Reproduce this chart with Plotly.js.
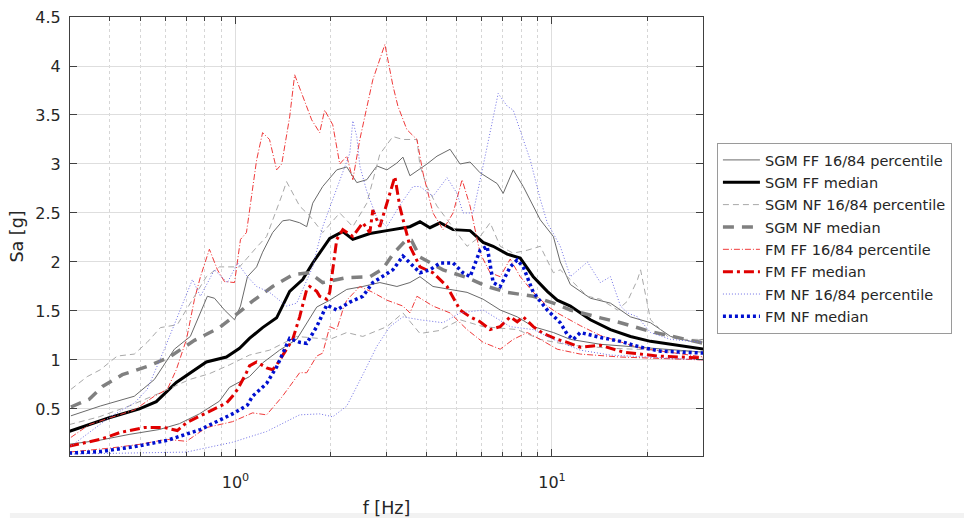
<!DOCTYPE html>
<html>
<head>
<meta charset="utf-8">
<script src="https://cdn.plot.ly/plotly-3.0.1.min.js"></script>
<style>html,body{margin:0;padding:0;background:#fff;}#chart{width:964px;height:518px;}</style>
</head>
<body>
<div id="chart"></div>
<script>
// ---- Data (frequency in Hz, Sa in g) ----
const legendNames = ["SGM FF 16/84 percentile","SGM FF median","SGM NF 16/84 percentile","SGM NF median",
  "FM FF 16/84 percentile","FM FF median","FM NF 16/84 percentile","FM NF median"];

const sgmFF84F = [0.302,0.374,0.479,0.554,0.641,0.720,0.815,0.858,0.923,0.993,1.037,1.091,1.166,1.218,1.310,1.409,1.483,1.595,1.679,1.754,1.886,2.089,2.247,2.417,2.600,2.797,3.009,3.236,3.381,3.558,4.027,4.332,4.764,5.123,5.511,5.928,6.711,7.012,7.543,8.113,9.183,10.10,10.62,11.43,13.22,15.30,17.70,20.48,23.70,27.43,30.15];
const sgmFF84V = [0.43,0.53,0.63,0.80,1.11,1.24,1.65,1.63,1.51,1.41,1.55,1.85,1.95,2.10,2.30,2.42,2.43,2.40,2.36,2.60,2.77,2.94,2.97,2.81,2.84,2.98,2.94,3.01,3.07,2.88,3.00,3.08,3.15,3.00,3.02,2.91,2.80,2.70,2.94,2.77,2.43,2.26,2.00,1.77,1.63,1.58,1.44,1.38,1.24,1.19,1.21];
const sgmFF16F = [0.298,0.371,0.461,0.574,0.665,0.769,0.890,0.957,1.107,1.218,1.378,1.561,1.806,1.985,2.247,2.525,2.858,3.236,3.558,3.827,4.207,4.764,5.391,6.059,6.860,7.766,8.727,10.10,11.43,14.22,20.48,30.15];
const sgmFF16V = [0.14,0.18,0.24,0.29,0.35,0.45,0.58,0.72,0.83,0.97,1.10,1.21,1.54,1.61,1.72,1.75,1.79,1.75,1.79,1.85,1.75,1.72,1.69,1.62,1.51,1.44,1.34,1.28,1.21,1.16,1.12,1.08];

const sgmFFmedF = [0.298,0.399,0.497,0.562,0.650,0.809,0.936,1.030,1.107,1.218,1.349,1.483,1.630,1.754,1.985,2.183,2.348,2.658,3.009,3.307,3.558,3.827,4.116,4.429,4.869,5.511,6.059,6.517,7.220,7.937,8.727,9.663,10.39,11.43,13.22,15.30,17.70,20.48,23.70,30.15];
const sgmFFmedV = [0.27,0.41,0.50,0.575,0.77,0.98,1.03,1.12,1.22,1.33,1.43,1.70,1.82,1.99,2.24,2.31,2.23,2.29,2.32,2.34,2.36,2.41,2.35,2.40,2.33,2.32,2.20,2.16,2.08,2.04,1.85,1.70,1.61,1.55,1.41,1.31,1.24,1.19,1.16,1.11];

const sgmNF84F = [0.302,0.340,0.374,0.423,0.479,0.526,0.579,0.655,0.742,0.809,0.890,1.030,1.166,1.254,1.409,1.450,1.595,1.716,1.886,2.135,2.348,2.600,2.858,3.143,3.381,3.744,3.827,4.027,4.332,4.660,5.012,5.391,5.928,6.376,6.860,7.543,8.353,9.183,10.10,10.62,11.43,12.94,14.22,16.10,17.32,18.63,19.05,20.48,23.19,26.07,30.15];
const sgmNF84V = [0.70,0.83,0.90,1.04,1.06,1.18,1.33,1.36,1.65,1.85,1.95,1.95,2.15,2.26,2.70,2.82,2.57,2.47,2.30,2.50,2.36,2.60,3.10,3.28,3.25,3.25,2.98,2.77,2.57,2.43,2.29,2.16,2.26,2.40,2.16,2.09,2.12,2.16,1.89,1.92,1.82,1.65,1.62,1.51,1.60,1.82,1.92,1.41,1.24,1.21,1.21];
const sgmNF16F = [0.298,0.371,0.461,0.574,0.715,0.827,0.957,1.107,1.281,1.561,1.985,2.247,2.525,3.009,3.381,3.827,4.400,5.123,6.059,7.766,9.183,11.43,15.30,20.48,30.15];
const sgmNF16V = [0.34,0.42,0.53,0.66,0.80,0.86,0.95,1.05,1.10,1.24,1.21,1.28,1.24,1.34,1.48,1.27,1.30,1.41,1.34,1.31,1.21,1.15,1.12,1.10,1.08];

const sgmNFmedF = [0.302,0.345,0.380,0.439,0.534,0.618,0.742,0.890,1.030,1.132,1.310,1.516,1.716,1.886,2.247,2.658,2.922,3.143,3.450,3.600,3.827,4.526,5.391,6.238,7.220,8.727,10.10,11.43,14.22,16.46,20.48,26.07,30.15];
const sgmNFmedV = [0.52,0.60,0.73,0.85,0.94,1.03,1.20,1.33,1.49,1.60,1.75,1.87,1.89,1.79,1.84,1.85,1.93,2.08,2.22,2.22,2.05,1.92,1.84,1.75,1.69,1.65,1.58,1.51,1.43,1.38,1.29,1.21,1.17];

const fmFF84F = [0.302,0.345,0.393,0.479,0.554,0.609,0.650,0.700,0.742,0.775,0.827,0.877,0.923,0.993,1.037,1.083,1.166,1.218,1.281,1.349,1.400,1.483,1.538,1.630,1.741,1.845,1.913,2.029,2.135,2.247,2.348,2.471,2.716,2.965,3.143,3.260,3.481,3.744,3.911,4.207,4.526,4.869,5.199,5.511,5.928,6.376,6.860,7.379,7.937,8.727,9.663,10.39,12.29,14.22,19.05,30.15];
const fmFF84V = [0.21,0.34,0.40,0.49,0.63,0.70,0.90,1.21,1.62,1.85,2.13,1.92,1.80,1.79,2.23,2.30,3.04,3.32,3.25,2.94,3.00,3.48,3.91,3.69,3.45,3.32,3.55,3.40,3.00,3.08,2.84,3.25,3.86,4.22,3.80,3.59,3.35,3.25,2.91,2.50,2.33,2.50,2.84,2.57,2.09,1.89,1.85,2.03,1.85,1.69,1.55,1.48,1.35,1.25,1.12,1.03];
const fmFF16F = [0.298,0.400,0.500,0.605,0.700,0.809,0.978,1.132,1.254,1.400,1.483,1.595,1.679,1.806,1.886,1.985,2.089,2.183,2.247,2.471,2.716,3.009,3.381,3.558,3.744,4.207,4.764,5.391,6.059,6.860,7.543,8.353,9.183,10.39,12.29,16.46,30.15];
const fmFF16V = [0.06,0.10,0.14,0.19,0.17,0.31,0.37,0.46,0.44,0.62,0.73,0.87,0.87,1.04,1.07,1.34,1.31,1.51,1.61,1.75,1.69,1.61,1.55,1.48,1.65,1.55,1.48,1.31,1.18,1.11,1.21,1.28,1.21,1.11,1.06,1.03,1.00];

const fmFFmedF = [0.298,0.374,0.432,0.515,0.596,0.655,0.700,0.809,0.936,0.978,1.015,1.083,1.107,1.166,1.254,1.310,1.349,1.450,1.516,1.595,1.679,1.716,1.806,1.845,1.942,1.985,2.089,2.183,2.348,2.525,2.658,2.716,2.858,3.075,3.189,3.307,3.558,3.827,4.207,4.660,5.123,5.511,5.928,6.376,6.860,7.379,7.766,8.113,8.727,9.384,10.39,11.18,12.29,14.22,16.82,21.56,30.15];
const fmFFmedV = [0.12,0.19,0.26,0.31,0.31,0.28,0.36,0.46,0.56,0.63,0.70,0.87,0.94,0.98,0.92,0.90,0.95,1.11,1.21,1.44,1.72,1.75,1.70,1.65,1.62,1.69,2.23,2.33,2.26,2.40,2.30,2.53,2.36,2.70,2.87,2.56,2.16,1.95,1.89,1.75,1.51,1.44,1.39,1.31,1.34,1.44,1.39,1.44,1.34,1.27,1.21,1.18,1.13,1.15,1.08,1.04,1.02];

const fmNF84F = [0.302,0.402,0.479,0.526,0.596,0.670,0.731,0.775,0.858,0.943,1.015,1.091,1.166,1.281,1.450,1.561,1.754,1.886,2.029,2.183,2.297,2.348,2.417,2.471,2.600,2.797,3.009,3.307,3.636,3.827,4.207,4.660,5.012,5.236,5.633,6.059,6.517,6.760,7.220,7.543,8.113,8.538,9.183,9.663,10.10,10.62,11.43,12.94,14.22,15.30,16.46,17.32,18.63,20.48,23.70,30.15];
const fmNF84V = [0.12,0.42,0.56,0.70,1.11,1.51,1.82,1.65,1.92,1.79,1.99,1.85,1.75,1.69,1.55,1.58,1.95,2.36,2.64,2.91,3.11,3.44,3.28,2.98,2.72,2.45,2.36,2.58,2.77,2.77,2.67,2.86,2.70,2.50,2.50,2.98,3.49,3.72,3.59,3.55,3.25,3.04,2.64,2.40,2.29,2.16,1.85,2.00,1.79,1.85,1.55,1.48,1.44,1.28,1.21,1.18];
const fmNF16F = [0.302,0.507,0.700,0.978,1.254,1.595,1.845,2.029,2.247,2.525,2.797,3.075,3.381,3.827,4.526,5.123,6.059,7.379,8.727,10.10,12.29,15.30,20.48,30.15];
const fmNF16V = [0.04,0.05,0.06,0.16,0.27,0.44,0.45,0.42,0.53,0.85,1.14,1.34,1.44,1.41,1.38,1.48,1.51,1.34,1.31,1.21,1.10,1.05,1.03,1.00];

const fmNFmedF = [0.298,0.374,0.479,0.609,0.775,0.877,0.993,1.091,1.132,1.254,1.349,1.483,1.595,1.679,1.806,1.942,2.089,2.297,2.525,2.716,2.922,3.143,3.381,3.558,3.827,4.116,4.429,4.869,5.236,5.511,5.928,6.238,6.517,6.860,7.379,7.766,8.113,8.727,9.663,10.62,11.18,11.68,12.29,14.22,16.46,19.05,22.03,30.15];
const fmNFmedV = [0.05,0.065,0.115,0.18,0.29,0.37,0.46,0.54,0.63,0.76,0.93,1.22,1.18,1.17,1.34,1.56,1.51,1.59,1.65,1.79,1.85,1.92,2.06,1.99,1.89,1.92,1.99,1.99,1.89,1.85,2.12,2.16,1.79,1.75,1.95,2.02,1.95,1.69,1.51,1.38,1.26,1.21,1.28,1.23,1.19,1.13,1.09,1.07];

const xTickVals = [1, 10];
const xTickText = ["10<sup>0</sup>", "10<sup>1</sup>"];
const xMinorVals = [0.3,0.4,0.5,0.6,0.7,0.8,0.9,2,3,4,5,6,7,8,9,20,30];

// ---- Styles ----
const sFF84 = {color:'#6a6a6a', width:1, dash:'solid'};
const sFFmed = {color:'#000000', width:3, dash:'solid'};
const sNF84 = {color:'#a8a8a8', width:1, dash:'6px,4px'};
const sNFmed = {color:'#808080', width:3.5, dash:'11px,8px'};
const fFF84 = {color:'#f03a3a', width:1, dash:'6px,2px,1px,2px'};
const fFFmed = {color:'#e00000', width:3, dash:'10px,4px,3px,4px'};
const fNF84 = {color:'#7070e6', width:1, dash:'1px,2px'};
const fNFmed = {color:'#0010d0', width:3.5, dash:'3px,3px'};

function tr(x, y, name, line, group, showlegend) {
  return {x: x, y: y, type: 'scatter', mode: 'lines', name: name, line: line,
          legendgroup: group, showlegend: showlegend, hoverinfo: 'skip'};
}

const data = [
  tr(sgmFF84F, sgmFF84V, legendNames[0], sFF84, 'g0', true),
  tr(sgmFF16F, sgmFF16V, legendNames[0], sFF84, 'g0', false),
  tr(sgmFFmedF, sgmFFmedV, legendNames[1], sFFmed, 'g1', true),
  tr(sgmNF84F, sgmNF84V, legendNames[2], sNF84, 'g2', true),
  tr(sgmNF16F, sgmNF16V, legendNames[2], sNF84, 'g2', false),
  tr(sgmNFmedF, sgmNFmedV, legendNames[3], sNFmed, 'g3', true),
  tr(fmFF84F, fmFF84V, legendNames[4], fFF84, 'g4', true),
  tr(fmFF16F, fmFF16V, legendNames[4], fFF84, 'g4', false),
  tr(fmFFmedF, fmFFmedV, legendNames[5], fFFmed, 'g5', true),
  tr(fmNF84F, fmNF84V, legendNames[6], fNF84, 'g6', true),
  tr(fmNF16F, fmNF16V, legendNames[6], fNF84, 'g6', false),
  tr(fmNFmedF, fmNFmedV, legendNames[7], fNFmed, 'g7', true)
];

const fontFam = '"DejaVu Sans", Arial, sans-serif';
const layout = {
  width: 964, height: 518,
  margin: {l: 70, r: 261, t: 17, b: 62, pad: 0},
  paper_bgcolor: '#ffffff', plot_bgcolor: '#ffffff',
  font: {family: fontFam, size: 14, color: '#262626'},
  showlegend: true,
  legend: {
    x: 1.022, y: 0.713, xanchor: 'left', yanchor: 'top',
    bgcolor: '#ffffff', bordercolor: '#9a9a9a', borderwidth: 1,
    font: {family: fontFam, size: 14.5, color: '#262626'},
    traceorder: 'grouped', tracegroupgap: 0.5, itemwidth: 37
  },
  xaxis: {
    type: 'log', range: [Math.log10(0.3), Math.log10(30)],
    tickmode: 'array', tickvals: xTickVals, ticktext: xTickText,
    ticks: 'inside', ticklen: 7, tickcolor: '#404040', tickwidth: 1,
    showline: true, linecolor: '#404040', linewidth: 1, mirror: 'ticks',
    showgrid: true, gridcolor: '#dedede', gridwidth: 1,
    zeroline: false,
    minor: {tickmode: 'array', tickvals: xMinorVals, ticks: 'inside', ticklen: 4, tickcolor: '#404040',
            showgrid: true, gridcolor: '#d6d6d6', griddash: 'dot', gridwidth: 1},
    tickfont: {family: fontFam, size: 16, color: '#262626'},
    ticklabelstandoff: 12,
    title: {text: 'f [Hz]', font: {family: fontFam, size: 17.5, color: '#262626'}, standoff: 11}
  },
  yaxis: {
    range: [0.02, 4.5], tick0: 0, dtick: 0.5,
    ticks: 'inside', ticklen: 7, tickcolor: '#404040', tickwidth: 1,
    showline: true, linecolor: '#404040', linewidth: 1, mirror: 'ticks',
    showgrid: true, gridcolor: '#dedede', gridwidth: 1,
    zeroline: false,
    tickfont: {family: fontFam, size: 16, color: '#262626'},
    ticklabelstandoff: 5,
    title: {text: 'Sa [g]', font: {family: fontFam, size: 17.5, color: '#262626'}, standoff: 7}
  },
  shapes: [{type: 'rect', xref: 'paper', yref: 'paper', x0: -0.095, x1: 1.42, y0: -0.13, y1: -0.145,
            fillcolor: '#f2f2f2', line: {width: 0}, layer: 'below'}]
};

Plotly.newPlot('chart', data, layout, {staticPlot: true, displayModeBar: false});
</script>
</body>
</html>
